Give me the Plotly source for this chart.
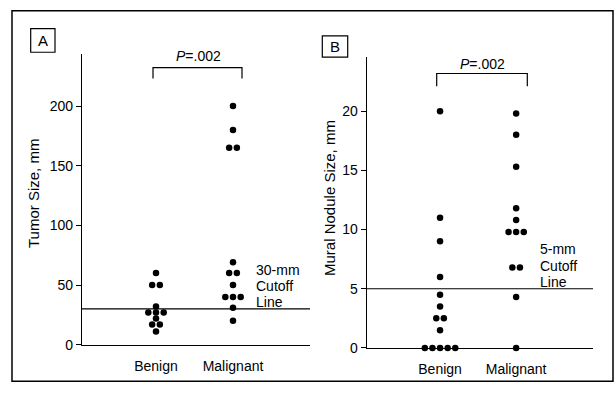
import plotly.graph_objects as go
from collections import defaultdict

# Tumor size (mm) per lesion
tumor_benign = [60, 50, 50, 32, 27, 27, 27, 22, 17, 17, 11]
tumor_malignant = [200, 180, 165, 165, 69, 60, 60, 50, 40, 40, 40, 31, 20]

# Mural nodule size (mm) per lesion
nodule_benign = [20, 11, 9, 6, 4.5, 3.5, 2.5, 2.5, 1.5, 0, 0, 0, 0, 0]
nodule_malignant = [19.8, 18, 15.3, 11.8, 10.8, 9.8, 9.8, 9.8, 6.8, 6.8, 4.3, 0]

categories = ["Benign", "Malignant"]
tumor_cutoff = 30
nodule_cutoff = 5
p_text = "<i>P</i>=.002"

W, H = 616, 402
FONT = "Liberation Sans, Arial, Helvetica, sans-serif"


def px(x):
    return x / W


def py(y):
    return 1 - y / H


def swarm(values, center, step=0.1):
    """Spread equal values side by side around the category centre."""
    groups = defaultdict(list)
    for i, v in enumerate(values):
        groups[v].append(i)
    xs = [0.0] * len(values)
    for v, idx in groups.items():
        n = len(idx)
        for k, i in enumerate(idx):
            xs[i] = center + (k - (n - 1) / 2) * step
    return xs


fig = go.Figure()

marker = dict(color="black", size=6.5, line=dict(width=0))
for vals, c, ax in [
    (tumor_benign, 0, "x"), (tumor_malignant, 1, "x"),
    (nodule_benign, 0, "x2"), (nodule_malignant, 1, "x2"),
]:
    fig.add_trace(go.Scatter(
        x=swarm(vals, c), y=vals, mode="markers", marker=marker,
        xaxis=ax, yaxis="y" if ax == "x" else "y2",
        cliponaxis=False, showlegend=False, hoverinfo="skip",
    ))

xr_a = [-0.961, 2.0]
xr_b = [-0.964, 2.01]
yr_a = [0, 243.7]
yr_b = [0, 24.56]

axis_common = dict(showline=True, linecolor="black", linewidth=1.3,
                   showgrid=False, zeroline=False,
                   tickfont=dict(family=FONT, size=14, color="black"))

fig.update_layout(
    width=W, height=H,
    margin=dict(l=0, r=0, t=0, b=0),
    paper_bgcolor="white", plot_bgcolor="white",
    font=dict(family=FONT, size=14, color="black"),
    xaxis=dict(domain=[px(82), px(310)], range=xr_a, anchor="y",
               tickvals=[0, 1], ticktext=categories, ticks="",
               ticklabelstandoff=8, **axis_common),
    yaxis=dict(domain=[py(351.7), py(55)], range=yr_a, anchor="x",
               tickvals=[0, 50, 100, 150, 200], ticks="outside",
               ticklen=5, tickwidth=1.2, tickcolor="black", **axis_common),
    xaxis2=dict(domain=[px(366.7), px(593)], range=xr_b, anchor="y2",
                tickvals=[0, 1], ticktext=categories, ticks="",
                ticklabelstandoff=8, **axis_common),
    yaxis2=dict(domain=[py(355), py(58.3)], range=yr_b, anchor="x2",
                tickvals=[0, 5, 10, 15, 20], ticks="outside",
                ticklen=5, tickwidth=1.2, tickcolor="black", **axis_common),
)

shapes = [
    # outer frame
    dict(type="rect", xref="paper", yref="paper",
         x0=px(12), x1=px(613), y0=py(389), y1=py(11),
         line=dict(color="black", width=1.5)),
    # panel letter boxes
    dict(type="rect", xref="paper", yref="paper",
         x0=px(30.7), x1=px(55), y0=py(53.3), y1=py(29.3),
         line=dict(color="black", width=1.2)),
    dict(type="rect", xref="paper", yref="paper",
         x0=px(322.3), x1=px(347.7), y0=py(58.3), y1=py(36.7),
         line=dict(color="black", width=1.2)),
    # cutoff lines
    dict(type="line", xref="x", yref="y", x0=xr_a[0], x1=xr_a[1],
         y0=tumor_cutoff, y1=tumor_cutoff, line=dict(color="black", width=1.2)),
    dict(type="line", xref="x2", yref="y2", x0=xr_b[0], x1=xr_b[1],
         y0=nodule_cutoff, y1=nodule_cutoff, line=dict(color="black", width=1.2)),
    # significance brackets
    dict(type="path", xref="paper", yref="paper",
         path=f"M {px(153)} {py(80)} L {px(153)} {py(69)} L {px(242)} {py(69)} L {px(242)} {py(80)}",
         line=dict(color="black", width=1.2)),
    dict(type="path", xref="paper", yref="paper",
         path=f"M {px(436.7)} {py(88)} L {px(436.7)} {py(75)} L {px(527.3)} {py(75)} L {px(527.3)} {py(88)}",
         line=dict(color="black", width=1.2)),
]
fig.update_layout(shapes=shapes)


def label(text, x, y, size=14, xanchor="center", angle=0):
    fig.add_annotation(text=text, x=px(x), y=py(y), xref="paper", yref="paper",
                       showarrow=False, xanchor=xanchor, yanchor="middle",
                       textangle=angle, font=dict(family=FONT, size=size, color="black"))


label("A", 42.8, 41.5, size=15)
label("B", 335, 47.5, size=15)
label(p_text, 198.5, 57.3)
label(p_text, 482.5, 65)
label("Tumor Size, mm", 33, 198, size=15, angle=-90)
label("Mural Nodule Size, mm", 330, 202, size=15, angle=-90)
for i, t in enumerate(["30-mm", "Cutoff", "Line"]):
    label(t, 254, 275 + 16.5 * i, xanchor="left")
for i, t in enumerate(["5-mm", "Cutoff", "Line"]):
    label(t, 538, 254.5 + 16.5 * i, xanchor="left")

fig.write_html("out.html")
